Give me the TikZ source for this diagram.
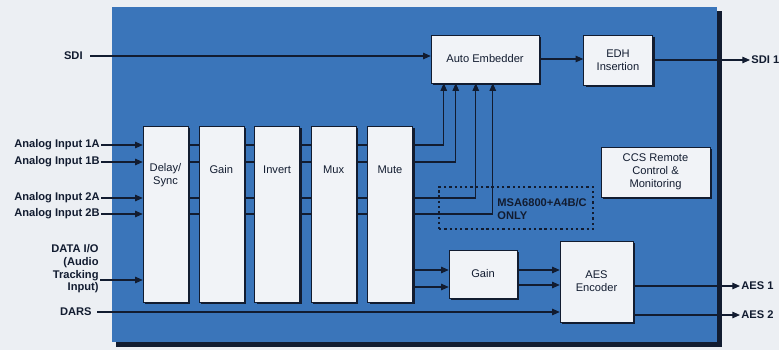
\documentclass[tikz,border=0pt]{standalone}
\usepackage{fontspec}
\setmainfont{Liberation Sans}
\usetikzlibrary{arrows.meta,positioning,shadows}
\definecolor{paper}{RGB}{236,239,243}
\definecolor{panelblue}{RGB}{58,117,186}
\definecolor{inkdark}{RGB}{18,28,48}
\definecolor{boxwhite}{RGB}{241,243,247}

\begin{document}
\begin{tikzpicture}[
    x=0.03cm, y=-0.03cm,
    >={Triangle[length=6.5pt,width=5.5pt]},
    font=\fontsize{9.5}{11}\selectfont,
    box/.style={
        rectangle,
        draw=inkdark,
        fill=boxwhite,
        text=inkdark,
        drop shadow={shadow xshift=2pt, shadow yshift=-2pt, fill=inkdark, opacity=1},
        align=center,
        inner sep=0pt
    },
    stage/.style={box, minimum width=1.35cm, minimum height=5.28cm},
    stagetext/.style={text=inkdark, align=center, inner sep=0pt},
    sig/.style={draw=inkdark, line width=1pt},
    inlabel/.style={font=\fontsize{9.5}{10.8}\selectfont\bfseries, text=inkdark, inner sep=1pt}
]
\useasboundingbox (0,0) rectangle (779,350);
\fill[paper] (0,0) rectangle (779,350);

% blue panel
\fill[inkdark] (116,11) rectangle (722,347);
\fill[panelblue] (112,7) rectangle (717,342);

% video path
\node[box, minimum width=3.24cm, minimum height=1.44cm] (embed) at (485,59) {Auto Embedder};
\node[box, minimum width=2.07cm, minimum height=1.5cm] (edh) at (618,60) {EDH\\Insertion};
\node[box, minimum width=3.27cm, minimum height=1.5cm] (ccs) at (655.5,172) {CCS Remote\\Control \&\\Monitoring};

% audio stages
\node[stage] (delay) at (165.5,214) {};
\node[stage, right=0.31cm of delay] (gain) {};
\node[stage, right=0.31cm of gain] (invert) {};
\node[stage, right=0.33cm of invert] (mux) {};
\node[stage, right=0.33cm of mux] (mute) {};
\node[stagetext] (delaytext) at (delay |- 0,175) {Delay/\\Sync};
\node[stagetext] (gaintext) at (gain |- 0,170) {Gain};
\node[stagetext] (inverttext) at (invert |- 0,170) {Invert};
\node[stagetext] (muxtext) at (mux |- 0,170) {Mux};
\node[stagetext] (mutetext) at (mute |- 0,170) {Mute};

\node[box, minimum width=2.04cm, minimum height=1.44cm] (gainb) at (483,274) {Gain};
\node[box, minimum width=2.19cm, minimum height=2.43cm] (aes) at (596.5,281.5) {AES\\Encoder};

% option box
\node[draw=inkdark, line width=0.9pt, dash pattern=on 2pt off 2.5pt,
      minimum width=4.62cm, minimum height=1.26cm] (onlybox) at (516,208) {};
\node[inlabel, anchor=west, align=left] (onlytext) at (496,209) {MSA6800+A4B/C\\ONLY};

% inputs
\node[inlabel, anchor=east] (sdi) at (84,56) {SDI};
\node[inlabel, anchor=east] (in1a) at (101,145) {Analog Input 1A};
\node[inlabel, anchor=east] (in1b) at (101,162) {Analog Input 1B};
\node[inlabel, anchor=east] (in2a) at (101,198) {Analog Input 2A};
\node[inlabel, anchor=east] (in2b) at (101,214) {Analog Input 2B};
\node[inlabel, anchor=east, align=right] (dataio) at (100,269) {DATA I/O\\(Audio\\Tracking\\Input)};
\node[inlabel, anchor=east] (dars) at (93,312) {DARS};

% outputs
\node[inlabel, anchor=west] (sdiout) at (750,60) {SDI 1};
\node[inlabel, anchor=west] (aes1) at (740,286) {AES 1};
\node[inlabel, anchor=west] (aes2) at (740,315) {AES 2};

% connectors
\draw[sig, ->] ([xshift=0.18cm]sdi.east) -- (sdi -| embed.west);
\draw[sig, ->] (embed.east) -- (embed.east -| edh.west);
\draw[sig, ->] (edh.east) -- (edh.east -| sdiout.west);

\draw[sig, ->] (in1a.east) -- (in1a -| delay.west);
\draw[sig, ->] (in1b.east) -- (in1b -| delay.west);
\draw[sig, ->] (in2a.east) -- (in2a -| delay.west);
\draw[sig, ->] (in2b.east) -- (in2b -| delay.west);
\draw[sig, ->] (dataio.east |- 0,280) -- (delay.west |- 0,280);

\foreach \lvl in {in1a,in1b,in2a,in2b} {
    \draw[sig] (\lvl -| delay.east) -- (\lvl -| gain.west);
    \draw[sig] (\lvl -| gain.east) -- (\lvl -| invert.west);
    \draw[sig] (\lvl -| invert.east) -- (\lvl -| mux.west);
    \draw[sig] (\lvl -| mux.east) -- (\lvl -| mute.west);
}

\draw[sig, ->] (mute.east |- in1a) -| ([xshift=0.39cm]embed.south west);
\draw[sig, ->] (mute.east |- in1b) -| ([xshift=0.75cm]embed.south west);
\draw[sig, ->] (mute.east |- in2a) -| ([xshift=1.35cm]embed.south west);
\draw[sig, ->] (mute.east |- in2b) -| ([xshift=1.86cm]embed.south west);

\draw[sig, ->] (mute.east |- 0,270) -- (gainb.west |- 0,270);
\draw[sig, ->] (mute.east |- 0,287) -- (gainb.west |- 0,287);
\draw[sig, ->] (gainb.east |- 0,270) -- (aes.west |- 0,270);
\draw[sig, ->] (gainb.east |- 0,285) -- (aes.west |- 0,285);
\draw[sig, ->] ([xshift=0.12cm]dars.east) -- (dars -| aes.west);

\draw[sig, ->] (aes.east |- aes1) -- (aes1.west);
\draw[sig, ->] (aes.east |- aes2) -- (aes2.west);
\end{tikzpicture}
\end{document}
